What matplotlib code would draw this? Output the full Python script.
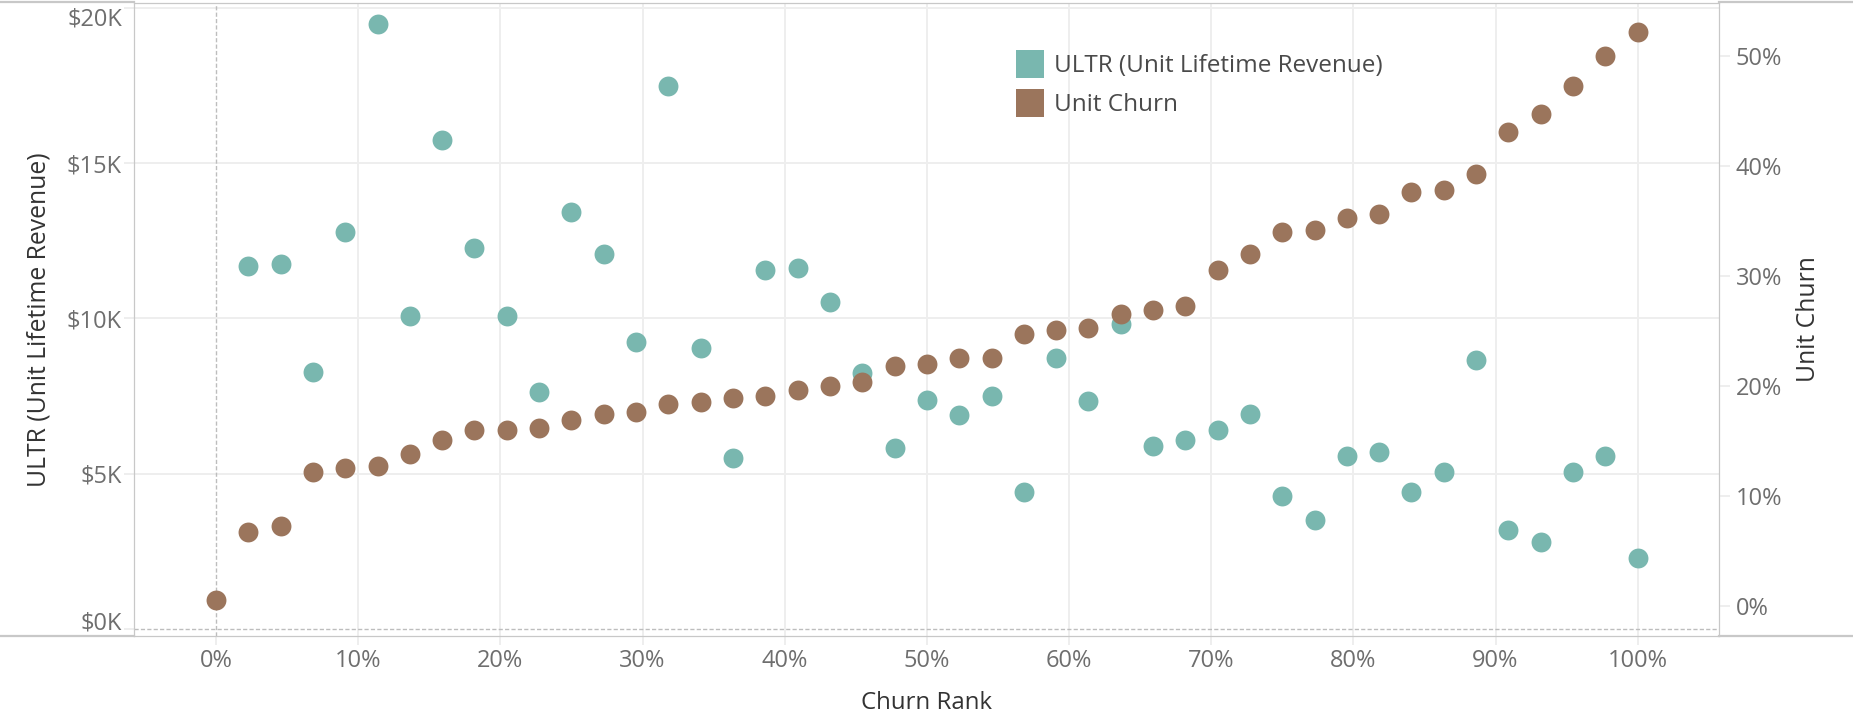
import numpy as np
import matplotlib
matplotlib.use("Agg")
from matplotlib import pyplot as plt
from matplotlib.lines import Line2D
from matplotlib.ticker import FuncFormatter, FixedLocator

plt.rcParams['font.family'] = ['Open Sans', 'DejaVu Sans']

# churn rank (percent), one point per unit
churn_rank = [0.0, 2.27, 4.55, 6.82, 9.09, 11.36, 13.64, 15.91, 18.18, 20.45,
              22.73, 25.0, 27.27, 29.55, 31.82, 34.09, 36.36, 38.64, 40.91, 43.18,
              45.45, 47.73, 50.0, 52.27, 54.55, 56.82, 59.09, 61.36, 63.64, 65.91,
              68.18, 70.45, 72.73, 75.0, 77.27, 79.55, 81.82, 84.09, 86.36, 88.64,
              90.91, 93.18, 95.45, 97.73, 100.0]

# ULTR in dollars (no value shown for the first unit)
ultr = [np.nan, 11690, 11760, 8280, 12790, 19480, 10090, 15740, 12270, 10090,
        7640, 13430, 12090, 9240, 17480, 9050, 5520, 11570, 11630, 10540,
        8260, 5840, 7380, 6880, 7520, 4420, 8740, 7330, 9810, 5900,
        6100, 6420, 6930, 4290, 3520, 5590, 5710, 4430, 5070, 8670,
        3200, 2820, 5070, 5590, 2300]

# unit churn (percent)
unit_churn = [0.53, 6.73, 7.24, 12.17, 12.52, 12.71, 13.80, 15.08, 16.00, 16.00,
              16.16, 16.89, 17.43, 17.63, 18.37, 18.55, 18.90, 19.10, 19.64, 19.99,
              20.34, 21.81, 22.00, 22.54, 22.54, 24.71, 25.10, 25.25, 26.53, 26.91,
              27.26, 30.55, 32.02, 34.00, 34.19, 35.28, 35.62, 37.64, 37.83, 39.27,
              43.10, 44.72, 47.27, 49.99, 52.19]

ultr_ticks = [0, 5000, 10000, 15000, 20000]
churn_ticks = [0, 10, 20, 30, 40, 50]
rank_ticks = [0, 10, 20, 30, 40, 50, 60, 70, 80, 90, 100]

teal = "#79B7AF"
brown = "#9B755C"
grid_c = "#EEEEEE"
axis_c = "#C8C8C8"
tick_txt = "#6E6E6E"
title_c = "#333333"

W, H = 1853, 728
fig = plt.figure(figsize=(W / 100, H / 100), dpi=100)
l, r, t, b = 134, 1719, 3, 636
ax = fig.add_axes([l / W, 1 - b / H, (r - l) / W, (b - t) / H])
ax2 = ax.twinx()

x = np.array(churn_rank) / 100

ax.scatter(x, ultr, s=205, color=teal, linewidths=0, zorder=3)
ax2.scatter(x, np.array(unit_churn) / 100, s=205, color=brown, linewidths=0, zorder=3)

ax.set_xlim(-0.0577, 1.0572)
ax.set_ylim(-215.6, 20151)
ax2.set_ylim(-0.02766, 0.5483)

# gridlines and zero lines
ax.xaxis.set_major_locator(FixedLocator([v / 100 for v in rank_ticks]))
ax.yaxis.set_major_locator(FixedLocator(ultr_ticks))
ax2.yaxis.set_major_locator(FixedLocator([v / 100 for v in churn_ticks]))
for v in rank_ticks[1:]:
    ax.axvline(v / 100, color=grid_c, lw=1.4, zorder=0)
for v in ultr_ticks[1:]:
    ax.axhline(v, color=grid_c, lw=1.4, zorder=0)
ax.axvline(0, color="#BDBDBD", lw=1.0, dashes=(3, 1.6), zorder=1)
ax.axhline(0, color="#BDBDBD", lw=1.0, dashes=(3, 1.6), zorder=1)

ax.xaxis.set_major_formatter(FuncFormatter(lambda v, p: f"{v * 100:.0f}%"))
ax.yaxis.set_major_formatter(FuncFormatter(lambda v, p: f"${v / 1000:.0f}K"))
ax2.yaxis.set_major_formatter(FuncFormatter(lambda v, p: f"{v * 100:.0f}%"))

ax.tick_params(axis="x", length=6.5, width=1.4, color=grid_c, labelsize=17,
               labelcolor=tick_txt, pad=3)
ax.tick_params(axis="y", length=7.2, width=1.4, color=grid_c, labelsize=17,
               labelcolor=tick_txt, pad=1.5)
ax2.tick_params(axis="y", length=8, width=1.4, color=grid_c, labelsize=17,
                labelcolor=tick_txt, pad=4)

for a in (ax, ax2):
    for s in a.spines.values():
        s.set_color(axis_c)
        s.set_linewidth(0.8)

ax.set_xlabel("Churn Rank", fontsize=17.3, color=title_c, labelpad=13)
ax.set_ylabel("ULTR (Unit Lifetime Revenue)", fontsize=17.8, color=title_c, labelpad=11)
ax2.set_ylabel("Unit Churn", fontsize=17.8, color=title_c, labelpad=10)

# pane borders outside the plot
for y0 in (H - 1.5, H - b):
    fig.add_artist(Line2D([0, l / W], [y0 / H, y0 / H], color=axis_c, lw=1.6))
    fig.add_artist(Line2D([r / W, 1], [y0 / H, y0 / H], color=axis_c, lw=1.6))

handles = [Line2D([], [], marker="s", ls="none", markersize=20, color=teal, markeredgewidth=0),
           Line2D([], [], marker="s", ls="none", markersize=20, color=brown, markeredgewidth=0)]
leg = ax2.legend(handles, ["ULTR (Unit Lifetime Revenue)", "Unit Churn"],
                 loc="upper left", bbox_to_anchor=(0.5565, 0.919), frameon=False,
                 fontsize=17.5, handlelength=1.15, handletextpad=0.42,
                 labelspacing=0.62, borderpad=0, borderaxespad=0)
for txt in leg.get_texts():
    txt.set_color("#4A4A4A")

# keep the edge labels of the left axis inside the pane, as in the original
fig.canvas.draw()
for tick in ax.yaxis.get_major_ticks():
    v = tick.get_loc()
    if v == max(ultr_ticks):
        tick.label1.set_va("top")
    elif v == min(ultr_ticks):
        tick.label1.set_va("baseline")
    else:
        tick.label1.set_va("center_baseline")

fig.savefig("out.png", dpi=100)
